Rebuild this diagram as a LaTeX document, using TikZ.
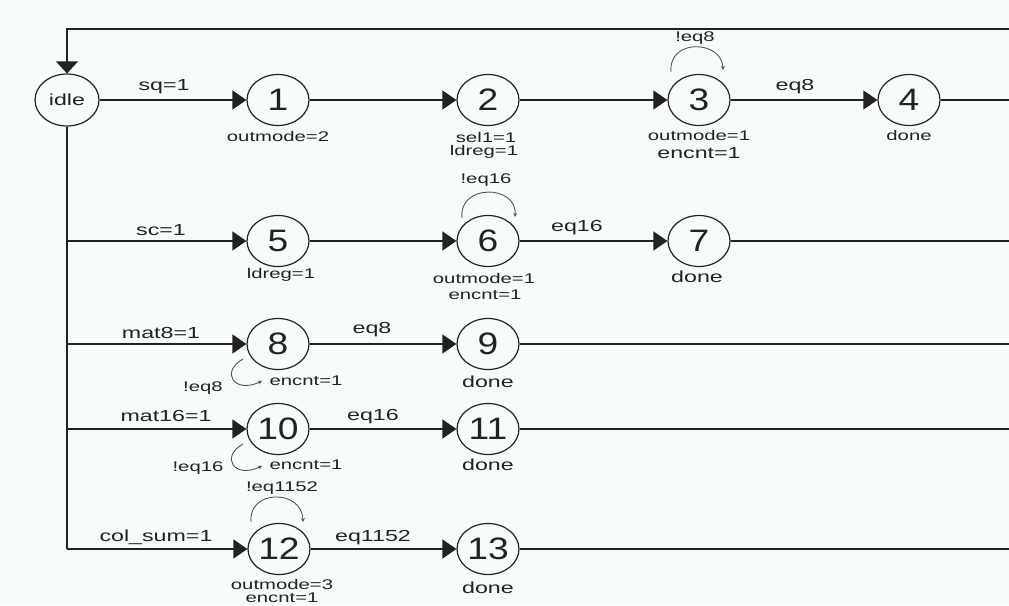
\documentclass[tikz,border=0pt]{standalone}
\usepackage{fontspec}
\setmainfont[FakeStretch=1.45]{Liberation Sans}
\newfontfamily\numfont[FakeStretch=1.2]{Liberation Sans}
\usetikzlibrary{shapes.geometric,arrows.meta}
\definecolor{bg}{HTML}{F8FBFC}
\definecolor{ink}{HTML}{222222}
\definecolor{loopc}{HTML}{555555}
\tikzset{
 fsm/.style={ellipse, draw=ink, line width=1.2pt, minimum width=62pt, minimum height=51pt, inner sep=0pt, text=ink, font=\numfont\fontsize{31}{31}\selectfont},
 idlest/.style={fsm, minimum width=64pt, minimum height=52pt, font=\fontsize{16}{16}\selectfont},
 wire/.style={draw=ink, line width=1.2pt},
 go/.style={wire, -{Triangle[length=14pt,width=19pt]}},
 selfloop/.style={draw=loopc, line width=0.9pt, -{Stealth[length=4pt,width=4pt]}},
 lbl/.style={inner sep=0pt, font=\fontsize{16}{16}\selectfont, text=ink},
 slbl/.style={inner sep=0pt, font=\fontsize{14}{14}\selectfont, text=ink},
}
\begin{document}
\begin{tikzpicture}[x=1pt,y=-1pt]
\useasboundingbox (0,0) rectangle (1009,605);
\fill[bg] (0,0) rectangle (1009,605);
% states
\node[idlest] (idle) at (67,100) {idle};
\node[fsm] (n1) at (278,100) {1};
\node[fsm] (n2) at (488,100) {2};
\node[fsm] (n3) at (699,100) {3};
\node[fsm] (n4) at (909,100) {4};
\node[fsm] (n5) at (278,241) {5};
\node[fsm] (n6) at (488,241) {6};
\node[fsm] (n7) at (699,241) {7};
\node[fsm] (n8) at (278,344) {8};
\node[fsm] (n9) at (488,344) {9};
\node[fsm] (n10) at (278,429) {10};
\node[fsm] (n11) at (488,429) {11};
\node[fsm] (n12) at (279,549) {12};
\node[fsm] (n13) at (488,549) {13};
% coordinates
\coordinate (tr) at (1009,29);
\coordinate (tl) at (67,29);
\coordinate (b5) at (67,241);
\coordinate (b8) at (67,344);
\coordinate (b10) at (67,429);
\coordinate (b12) at (67,549);
\coordinate (e4) at (1009,100);
\coordinate (e7) at (1009,241);
\coordinate (e9) at (1009,344);
\coordinate (e11) at (1009,429);
\coordinate (e13) at (1009,549);
% return path
\draw[wire, -{Triangle[length=12pt,width=22pt]}] (tr) -- (tl) -- (idle);
\draw[wire] (idle) -- (b12);
% transitions
\draw[go] (idle) -- (n1);
\draw[go] (n1) -- (n2);
\draw[go] (n2) -- (n3);
\draw[go] (n3) -- (n4);
\draw[wire] (n4) -- (e4);
\draw[go] (b5) -- (n5);
\draw[go] (n5) -- (n6);
\draw[go] (n6) -- (n7);
\draw[wire] (n7) -- (e7);
\draw[go] (b8) -- (n8);
\draw[go] (n8) -- (n9);
\draw[wire] (n9) -- (e9);
\draw[go] (b10) -- (n10);
\draw[go] (n10) -- (n11);
\draw[wire] (n11) -- (e11);
\draw[go] (b12) -- (n12);
\draw[go] (n12) -- (n13);
\draw[wire] (n13) -- (e13);
% self loops
\draw[selfloop] ([shift={(-28,-28)}]n3.center) .. controls ([shift={(-31,-62)}]n3.center) and ([shift={(23,-60)}]n3.center) .. ([shift={(24,-30)}]n3.center);
\draw[selfloop] ([shift={(-26,-23)}]n6.center) .. controls ([shift={(-30,-57)}]n6.center) and ([shift={(29,-57)}]n6.center) .. ([shift={(27,-24)}]n6.center);
\draw[selfloop] ([shift={(-28,-27)}]n12.center) .. controls ([shift={(-31,-60)}]n12.center) and ([shift={(23,-60)}]n12.center) .. ([shift={(24,-27)}]n12.center);
\draw[selfloop] ([shift={(-35,15)}]n8.center) .. controls ([shift={(-58,28)}]n8.center) and ([shift={(-44,50)}]n8.center) .. ([shift={(-16,37)}]n8.center);
\draw[selfloop] ([shift={(-35,15)}]n10.center) .. controls ([shift={(-58,28)}]n10.center) and ([shift={(-44,50)}]n10.center) .. ([shift={(-16,37)}]n10.center);
% edge labels
\node[lbl] (lsq) at (164,87) {sq=1};
\node[lbl] (lsc) at (161,230) {sc=1};
\node[lbl] (lmat8) at (161,333) {mat8=1};
\node[lbl] (lmat16) at (166,416) {mat16=1};
\node[lbl] (lcol) at (156,537) {col\_sum=1};
\node[lbl] (leq8a) at (795,87) {eq8};
\node[lbl] (leq16a) at (577,228) {eq16};
\node[lbl] (leq8b) at (372,330) {eq8};
\node[lbl] (leq16b) at (373,417) {eq16};
\node[lbl] (leq1152) at (373,538) {eq1152};
\node[slbl] (lneq8a) at (695,38) {!eq8};
\node[slbl] (lneq16a) at (486,180) {!eq16};
\node[slbl] (lneq8b) at (203,388) {!eq8};
\node[slbl] (lneq16b) at (198,468) {!eq16};
\node[slbl] (lneq1152) at (282,488) {!eq1152};
% state outputs
\node[slbl] (o1) at (278,136) {outmode=2};
\node[slbl] (o2a) at (486,137) {sel1=1};
\node[slbl] (o2b) at (484,152) {ldreg=1};
\node[slbl] (o3a) at (699,135) {outmode=1};
\node[lbl] (o3b) at (699,153) {encnt=1};
\node[slbl] (o4) at (909,135) {done};
\node[slbl] (o5) at (281,275) {ldreg=1};
\node[slbl] (o6a) at (484,278) {outmode=1};
\node[slbl] (o6b) at (485,295) {encnt=1};
\node[lbl] (o7) at (697,277) {done};
\node[slbl] (o8) at (306,381) {encnt=1};
\node[lbl] (o9) at (488,382) {done};
\node[slbl] (o10) at (306,465) {encnt=1};
\node[lbl] (o11) at (488,465) {done};
\node[slbl] (o12a) at (282,584) {outmode=3};
\node[slbl] (o12b) at (282,598) {encnt=1};
\node[lbl] (o13) at (488,588) {done};
\end{tikzpicture}
\end{document}
